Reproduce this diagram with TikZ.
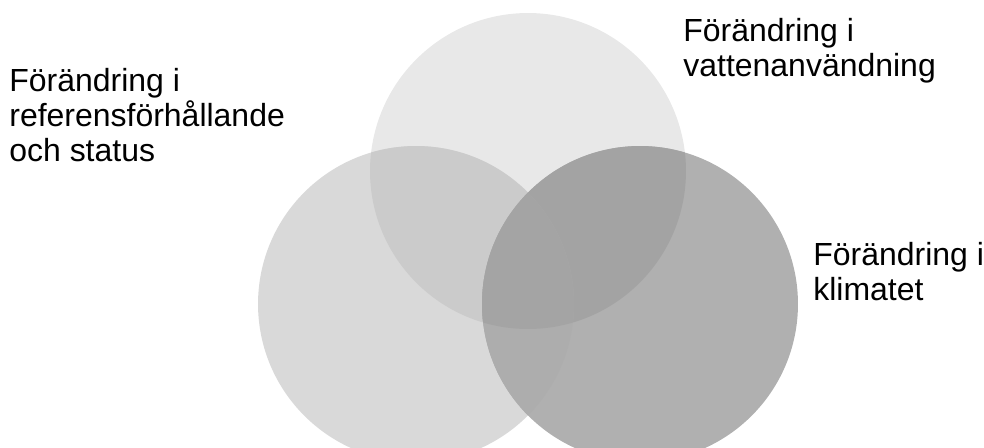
\documentclass[tikz,border=0pt]{standalone}
\usepackage{fontspec}
\setmainfont{Liberation Sans}
\usetikzlibrary{shapes}

\begin{document}
\begin{tikzpicture}[x=0.02cm,y=-0.02cm]
   \useasboundingbox (0,0) rectangle (984,447);
   \tikzstyle{ring}=[circle, minimum size=6.32cm, inner sep=0pt, draw=none]
   \tikzstyle{label}=[anchor=base west, align=left, inner sep=0pt, font=\fontsize{18.2}{19.9}\selectfont]
   \def\rad{3.16cm}
   % the three circles
   \node[ring, fill=black!9] (water) at (528,171) {};
   \node[ring, fill=black!15] (ref) at (416,304) {};
   \node[ring, fill=black!31] (clim) at (640,304) {};
   % overlaps
   \begin{scope}
      \clip (water.center) circle (\rad);
      \fill[black!20.5] (ref.center) circle (\rad);
      \fill[black!36] (clim.center) circle (\rad);
   \end{scope}
   \begin{scope}
      \clip (ref.center) circle (\rad);
      \fill[black!32] (clim.center) circle (\rad);
      \clip (water.center) circle (\rad);
      \fill[black!35.5] (clim.center) circle (\rad);
   \end{scope}
   % labels (base = last line)
   \node[label] (lref) at (9,161) {Förändring i\\referensförhållande\\och status};
   \node[label] (lwater) at (683,76) {Förändring i\\vattenanvändning};
   \node[label] (lclim) at (813,300) {Förändring i\\klimatet};
\end{tikzpicture}
\end{document}
